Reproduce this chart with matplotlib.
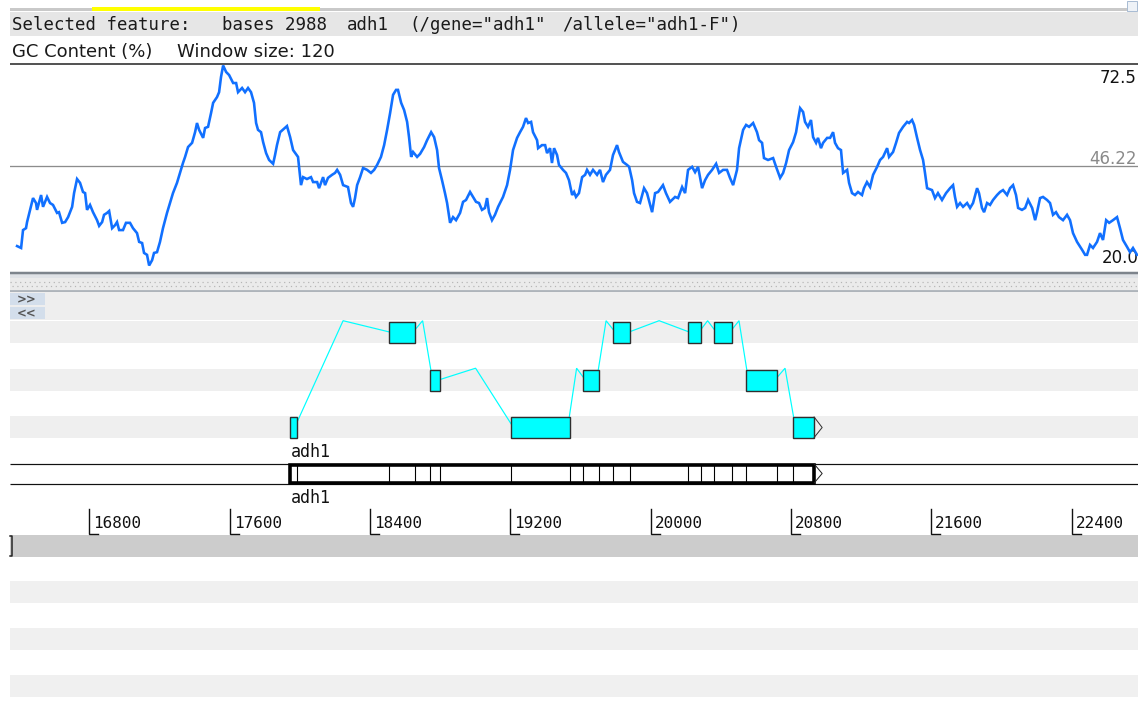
import matplotlib
matplotlib.use("Agg")
import matplotlib.pyplot as plt
from matplotlib.patches import Rectangle

# ---------------- data ----------------
# GC content (%) along the sequence, window size 120
gc_pos = [
    16387, 16410, 16421, 16438, 16444, 16461, 16478, 16495, 16501, 16524,
    16535, 16558, 16575, 16592, 16615, 16626, 16644, 16661, 16678, 16701,
    16712, 16729, 16746, 16763, 16775, 16786, 16803, 16820, 16843, 16855,
    16872, 16883, 16900, 16912, 16929, 16946, 16957, 16969, 16991, 17008,
    17031, 17048, 17071, 17083, 17100, 17111, 17128, 17140, 17157, 17168,
    17185, 17202, 17219, 17242, 17259, 17276, 17299, 17316, 17333, 17345,
    17362, 17385, 17402, 17413, 17425, 17448, 17459, 17476, 17493, 17505,
    17527, 17539, 17550, 17562, 17579, 17596, 17619, 17636, 17647, 17670,
    17687, 17704, 17721, 17738, 17750, 17761, 17778, 17790, 17807, 17824,
    17847, 17858, 17869, 17887, 17926, 17944, 17961, 17989, 18006, 18018,
    18040, 18063, 18075, 18098, 18109, 18132, 18143, 18160, 18183, 18200,
    18212, 18229, 18246, 18274, 18291, 18303, 18314, 18326, 18343, 18360,
    18383, 18405, 18423, 18440, 18462, 18480, 18497, 18514, 18531, 18548,
    18559, 18577, 18594, 18611, 18622, 18634, 18645, 18668, 18685, 18708,
    18725, 18748, 18765, 18782, 18793, 18810, 18827, 18839, 18856, 18873,
    18890, 18913, 18930, 18947, 18970, 18987, 19004, 19021, 19038, 19055,
    19067, 19078, 19095, 19112, 19130, 19158, 19181, 19198, 19215, 19238,
    19255, 19272, 19289, 19301, 19318, 19329, 19352, 19358, 19380, 19398,
    19409, 19426, 19437, 19449, 19466, 19477, 19500, 19517, 19534, 19552,
    19563, 19574, 19591, 19609, 19626, 19637, 19654, 19671, 19694, 19711,
    19728, 19745, 19768, 19785, 19808, 19819, 19842, 19865, 19877, 19894,
    19905, 19922, 19939, 19962, 19979, 20008, 20025, 20042, 20070, 20087,
    20110, 20139, 20156, 20179, 20196, 20213, 20236, 20253, 20270, 20293,
    20310, 20327, 20350, 20373, 20390, 20413, 20435, 20452, 20470, 20492,
    20504, 20527, 20544, 20561, 20584, 20606, 20618, 20635, 20646, 20669,
    20698, 20715, 20738, 20755, 20772, 20789, 20812, 20829, 20840, 20852,
    20869, 20880, 20897, 20914, 20926, 20943, 20954, 20971, 20983, 21006,
    21023, 21040, 21051, 21068, 21085, 21097, 21120, 21131, 21148, 21165,
    21182, 21205, 21216, 21233, 21251, 21268, 21291, 21308, 21325, 21348,
    21359, 21382, 21399, 21416, 21439, 21462, 21473, 21490, 21502, 21519,
    21536, 21553, 21564, 21576, 21604, 21621, 21638, 21661, 21684, 21707,
    21724, 21735, 21747, 21764, 21781, 21804, 21821, 21838, 21861, 21872,
    21889, 21901, 21918, 21935, 21952, 21975, 21992, 22009, 22032, 22049,
    22066, 22083, 22095, 22117, 22135, 22152, 22175, 22192, 22203, 22220,
    22237, 22260, 22277, 22294, 22311, 22328, 22351, 22374, 22391, 22408,
    22431, 22460, 22477, 22488, 22505, 22522, 22545, 22562, 22579, 22597,
    22614, 22636, 22659, 22676, 22693, 22716, 22733, 22750, 22773,
]
gc_pct = [
    25.1, 24.6, 29.3, 29.8, 31.4, 34.6, 37.7, 36.4, 34.6, 38.5,
    35.4, 38.0, 36.4, 35.9, 33.8, 34.0, 31.2, 31.4, 32.7, 35.4,
    39.0, 42.7, 41.7, 39.3, 39.0, 34.6, 35.9, 34.0, 31.9, 30.4,
    31.4, 33.3, 33.8, 34.3, 29.8, 30.6, 31.4, 29.3, 29.3, 31.2,
    31.2, 29.8, 28.5, 26.2, 25.9, 23.3, 22.8, 20.0, 21.4, 23.3,
    23.5, 26.2, 29.8, 33.8, 36.4, 39.0, 41.7, 44.3, 46.9, 48.5,
    51.1, 52.2, 55.0, 57.4, 55.6, 53.5, 56.1, 56.4, 60.0, 62.7,
    64.2, 65.5, 69.5, 72.5, 70.8, 70.0, 67.9, 67.9, 65.5, 66.6,
    65.5, 66.6, 65.5, 62.7, 57.4, 55.6, 55.0, 52.4, 49.5, 47.7,
    46.7, 49.0, 51.6, 55.0, 56.6, 53.7, 50.3, 48.5, 41.1, 43.2,
    42.7, 43.2, 41.9, 41.9, 40.3, 43.2, 41.1, 43.0, 43.8, 44.3,
    45.1, 43.8, 41.1, 40.6, 36.4, 35.4, 37.7, 41.1, 43.2, 45.6,
    45.1, 44.3, 45.1, 46.4, 48.5, 51.6, 55.6, 60.0, 64.8, 66.1,
    66.1, 62.7, 60.8, 57.7, 53.7, 48.5, 49.8, 48.5, 49.3, 51.1,
    52.9, 55.0, 53.7, 50.3, 45.6, 42.4, 39.0, 36.4, 31.2, 32.7,
    31.9, 33.8, 36.7, 37.2, 39.3, 38.0, 36.7, 36.4, 34.6, 35.1,
    37.7, 34.0, 31.9, 33.3, 35.4, 38.0, 41.1, 45.1, 50.3, 53.5,
    55.0, 56.4, 58.7, 57.4, 57.7, 55.0, 52.9, 50.8, 51.6, 51.6,
    49.5, 50.8, 46.9, 50.8, 49.0, 46.4, 45.1, 44.3, 42.4, 38.5,
    39.3, 38.0, 39.0, 43.2, 43.8, 45.1, 43.8, 45.1, 43.8, 45.1,
    41.9, 43.8, 45.1, 49.0, 51.6, 49.8, 47.2, 46.4, 45.9, 42.4,
    39.0, 36.7, 36.4, 40.3, 39.0, 34.0, 39.0, 39.3, 41.1, 39.0,
    36.7, 38.0, 37.7, 40.6, 39.0, 45.1, 45.9, 44.5, 45.9, 40.3,
    42.4, 43.8, 45.1, 46.7, 44.3, 45.1, 45.1, 43.0, 41.1, 45.1,
    50.8, 55.6, 56.9, 56.4, 57.4, 55.0, 52.9, 52.2, 48.2, 47.7,
    48.2, 45.9, 43.0, 44.3, 46.9, 50.3, 52.4, 55.0, 58.2, 61.3,
    60.3, 57.7, 56.4, 58.2, 53.7, 52.2, 53.5, 50.8, 52.2, 53.5,
    53.5, 55.0, 52.2, 50.8, 50.3, 44.3, 45.1, 41.7, 39.0, 38.5,
    39.3, 38.5, 40.3, 41.9, 40.6, 43.8, 45.9, 47.7, 48.5, 50.8,
    48.5, 49.8, 52.2, 54.8, 56.4, 57.7, 57.4, 58.2, 56.9, 53.5,
    50.3, 47.7, 44.3, 40.3, 39.8, 37.7, 39.0, 37.2, 39.0, 40.3,
    41.1, 38.0, 35.4, 36.4, 35.4, 36.4, 35.1, 36.4, 40.3, 39.0,
    35.1, 34.0, 36.4, 35.9, 37.2, 38.5, 39.3, 39.8, 38.5, 40.3,
    41.1, 38.5, 35.1, 34.6, 35.1, 37.2, 35.1, 31.9, 34.0, 37.7,
    38.0, 37.2, 36.4, 33.3, 34.0, 32.7, 31.9, 33.3, 31.9, 28.5,
    26.2, 24.1, 22.8, 22.8, 25.4, 24.6, 26.2, 28.5, 26.7, 31.9,
    31.2, 31.9, 32.7, 29.8, 26.7, 24.9, 23.5, 24.6, 22.8,
]
gc_mean = 46.22
window_size = 120

# adh1 gene model: exon coordinates and reading frame
gene_name = "adh1"
allele_name = "adh1-F"
exon_start = [17944, 18508, 18742, 19203, 19614, 19785, 20213, 20361, 20543, 20811]
exon_end = [17983, 18656, 18799, 19540, 19705, 19882, 20287, 20463, 20720, 20931]
exon_frame = [3, 1, 2, 3, 2, 1, 1, 1, 2, 3]

ruler_ticks = [16800, 17600, 18400, 19200, 20000, 20800, 21600, 22400]

# ---------------- view geometry ----------------
W, H = 1138, 713
VIEW_START = 16289.7          # base under the left pixel
BPP = 5.702                   # bases per pixel
VIEW_END = VIEW_START + W * BPP
LEFT = 10
PX = 0.72                     # points per pixel at 100 dpi

MONO = "DejaVu Sans Mono"
SANS = "DejaVu Sans"

fig = plt.figure(figsize=(W / 100, H / 100), dpi=100)
fig.patch.set_facecolor("white")

# panel chrome, in pixel units
ui = fig.add_axes([0, 0, 1, 1])
ui.set_xlim(0, W)
ui.set_ylim(H, 0)
ui.set_axis_off()


def band(y0, y1, color, x0=LEFT, x1=W, **kw):
    ui.add_patch(Rectangle((x0, y0), x1 - x0, y1 - y0, facecolor=color,
                           edgecolor="none", **kw))


def hline(y, color, lw_px=1.0, x0=LEFT, x1=W, **kw):
    ui.plot([x0, x1], [y, y], color=color, lw=lw_px * PX,
            solid_capstyle="butt", **kw)


# overview strip and selection header
band(8, 10.5, "#c9c9c9")
band(7, 11, "#ffff00", x0=92, x1=320)
band(11.5, 35.5, "#e6e6e6")
ui.add_patch(Rectangle((1127, 1), 10, 10, facecolor="#eef2f7",
                       edgecolor="#a9bcd3", lw=1 * PX))

n_bases = exon_end[-1] - exon_start[0] + 1
hdr = dict(family=MONO, fontsize=12.5, color="#1a1a1a", va="baseline")
ui.text(12, 30, "Selected feature:", **hdr)
ui.text(222, 30, f"bases {n_bases}", **hdr)
ui.text(347, 30, gene_name, **hdr)
ui.text(409, 30, f'(/gene="{gene_name}"', **hdr)
ui.text(562, 30, f'/allele="{allele_name}")', **hdr)

ttl = dict(family=SANS, fontsize=13, color="#1a1a1a", va="baseline")
ui.text(12, 57, "GC Content (%)", **ttl)
ui.text(177, 57, f"Window size: {window_size}", **ttl)

# graph frame
hline(63.5, "#555555", 2)
hline(272.5, "#7d848c", 2.5)
band(274, 278, "#dfe2e6")
band(278, 290, "#ebebeb")
ui.plot([LEFT, W], [282, 282], color="#b5b5b5", lw=1.2 * PX, ls=(0, (1, 3)))
ui.plot([LEFT + 2, W], [286, 286], color="#b5b5b5", lw=1.2 * PX, ls=(0, (1, 3)))
hline(290.5, "#9aa2aa", 1.5)

# scroll buttons area
band(291, 320, "#eeeeee")
for y0, label in [(293, ">>"), (307, "<<")]:
    ui.add_patch(Rectangle((LEFT, y0), 35, 12, facecolor="#d3deeb",
                           edgecolor="none"))
    ui.text(17, y0 + 6.5, label, family=SANS, fontsize=8.5, fontweight="bold",
            color="#555555", va="center", ha="left")

# forward frame rows
row_top = {1: 321, 2: 368.5, 3: 416}
row_bot = {1: 343, 2: 391, 3: 438}
for f in (1, 2, 3):
    band(row_top[f], row_bot[f], "#efefef")

# forward strand lines
hline(463.5, "#111111", 1.2)
hline(483.5, "#111111", 1.2)

# reverse strand and reverse frame rows
band(535, 557, "#cccccc")
for y0 in (581, 628, 675):
    band(y0, y0 + 22, "#f0f0f0")
ui.plot([LEFT, 12, 12, LEFT], [535.5, 535.5, 555.5, 555.5], color="#222222",
        lw=1.5 * PX)

# ---------------- features (x in bases, y in pixels) ----------------
feat = fig.add_axes([0, 0, 1, 1])
feat.set_xlim(VIEW_START, VIEW_END)
feat.set_ylim(H, 0)
feat.set_axis_off()
feat.patch.set_visible(False)


def row_mid(f):
    return (row_top[f] + 1 + row_bot[f]) / 2


# intron connectors
inset = 2.5 * BPP
for i in range(len(exon_start) - 1):
    fa, fb = exon_frame[i], exon_frame[i + 1]
    x0 = exon_end[i] + 1 - inset
    x1 = exon_start[i + 1] + inset
    xm = (exon_end[i] + 1 + exon_start[i + 1]) / 2
    ym = min(row_top[fa], row_top[fb]) - 0.3
    feat.plot([x0, xm, x1], [row_mid(fa), ym, row_mid(fb)], color="#00ffff",
              lw=1.2 * PX, zorder=2, solid_joinstyle="miter")

# exons
for s, e, f in zip(exon_start, exon_end, exon_frame):
    feat.add_patch(Rectangle((s, row_top[f] + 1), e + 1 - s,
                             row_bot[f] - row_top[f] - 1.5,
                             facecolor="#00ffff", edgecolor="#2e2e2e",
                             lw=1.4 * PX, zorder=3))

gene_lo, gene_hi = exon_start[0], exon_end[-1] + 1
f_last = exon_frame[-1]
feat.plot([gene_hi, gene_hi + 8 * BPP, gene_hi],
          [row_top[f_last] + 1, row_mid(f_last), row_bot[f_last] - 0.5],
          color="#333333", lw=1 * PX, zorder=3)

lab = dict(family=MONO, fontsize=12, color="#111111", va="center", ha="left")
feat.text(gene_lo + 0.5 * BPP, 452, gene_name, **lab)
feat.text(gene_lo + 0.5 * BPP, 498, gene_name, **lab)

# gene on the forward strand
feat.add_patch(Rectangle((gene_lo, 464.5), gene_hi - gene_lo, 18,
                         facecolor="white", edgecolor="#000000",
                         lw=3.6 * PX, zorder=3, joinstyle="miter"))
for i in range(len(exon_start)):
    for x in (exon_start[i], exon_end[i] + 1):
        if x in (gene_lo, gene_hi):
            continue
        feat.plot([x, x], [465.5, 481.5], color="#000000", lw=1.1 * PX,
                  zorder=4)
feat.plot([gene_hi, gene_hi + 8 * BPP, gene_hi], [464, 473.5, 483],
          color="#222222", lw=1 * PX, zorder=3)

# base ruler
for t in ruler_ticks:
    feat.plot([t, t, t + 9 * BPP], [509, 533.5, 533.5], color="#111111",
              lw=1.4 * PX, solid_joinstyle="miter")
    feat.text(t + 4 * BPP, 528, f"{t}", family=MONO, fontsize=11.5,
              color="#111111", va="baseline", ha="left")

# ---------------- GC content graph ----------------
gc_lo, gc_hi = min(gc_pct), max(gc_pct)
gc_ax = fig.add_axes([LEFT / W, 1 - 265.5 / H, (W - LEFT) / W, 200 / H])
gc_ax.set_xlim(VIEW_START + LEFT * BPP, VIEW_END)
gc_ax.set_ylim(gc_lo, gc_hi)
gc_ax.set_axis_off()
gc_ax.patch.set_visible(False)
gc_ax.axhline(gc_mean, color="#8c8c8c", lw=1.3 * PX)
gc_ax.plot(gc_pos, gc_pct, color="#1170ff", lw=2.6 * PX, clip_on=False,
           solid_joinstyle="miter")

lbl = dict(family=SANS, fontsize=12, ha="right", va="center")
ui.text(1137, 78, f"{gc_hi:.1f}", color="#111111", **lbl)
ui.text(1137, 158.5, f"{gc_mean:.2f}", color="#8a8a8a", **lbl)
ui.text(1139, 258, f"{gc_lo:.1f}", color="#111111", **lbl)

fig.savefig("out.png", dpi=100, facecolor="white")
